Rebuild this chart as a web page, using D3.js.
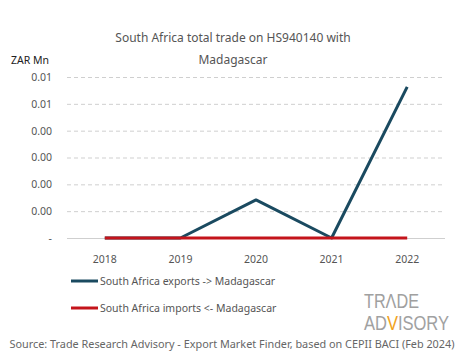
<!DOCTYPE html>
<html><head><meta charset="utf-8">
<script src="https://cdn.jsdelivr.net/npm/d3@7"></script>
<style>body{margin:0;background:#fff}svg{display:block;font-family:"Noto Sans",sans-serif}</style>
</head><body><svg id="c" width="465" height="359"></svg>
<script>
const years = ["2018","2019","2020","2021","2022"];
const exportsZAR = [0, 0, 0.00142, 0, 0.00563];
const importsZAR = [0, 0, 0, 0, 0];
const yTicks = [0, 0.001, 0.002, 0.003, 0.004, 0.005, 0.006];
const tickLabels = ["-", "0.00", "0.00", "0.00", "0.00", "0.01", "0.01"];
const seriesNames = ["South Africa exports -> Madagascar", "South Africa imports <- Madagascar"];
const colors = ["#1a4a60", "#c4141b"];

const svg = d3.select("#c");
const x = d3.scaleBand().domain(years).range([67, 445]);
const y = d3.scaleLinear().domain([0, 0.006]).range([238, 77]);

svg.append("text").attr("x", 233).attr("y", 42).attr("text-anchor", "middle")
  .attr("font-size", 12).attr("fill", "#555").text("South Africa total trade on HS940140 with");
svg.append("text").attr("x", 233).attr("y", 64).attr("text-anchor", "middle")
  .attr("font-size", 12).attr("fill", "#555").text("Madagascar");
svg.append("text").attr("x", 11).attr("y", 64).attr("font-size", 10.5).attr("fill", "#222").text("ZAR Mn");

const yAxis = d3.axisLeft(y).tickValues(yTicks).tickSize(-(445 - 67)).tickFormat((d, i) => tickLabels[i]);
const gy = svg.append("g").attr("transform", "translate(67,0)").call(yAxis);
gy.select(".domain").remove();
gy.selectAll(".tick line").attr("stroke", "#cfcfcf")
  .attr("stroke-dasharray", (d) => d === 0 ? null : "4,3");
gy.selectAll(".tick text").attr("x", -15).attr("font-size", 10.5).attr("fill", "#555")
  .attr("font-family", '"Noto Sans",sans-serif');

const xAxis = d3.axisBottom(x).tickSize(0).tickPadding(12);
const gx = svg.append("g").attr("transform", "translate(0,244)").call(xAxis);
gx.select(".domain").remove();
gx.selectAll(".tick text").attr("font-size", 10.5).attr("fill", "#555")
  .attr("font-family", '"Noto Sans",sans-serif');

const line = d3.line().x((d, i) => x(years[i]) + x.bandwidth() / 2).y(d => y(d));
svg.append("path").datum(exportsZAR).attr("d", line).attr("fill", "none")
  .attr("stroke", colors[0]).attr("stroke-width", 3).attr("stroke-linejoin", "round");
svg.append("path").datum(importsZAR).attr("d", line).attr("fill", "none")
  .attr("stroke", colors[1]).attr("stroke-width", 3);

seriesNames.forEach((n, i) => {
  const ly = 281 + i * 27;
  svg.append("line").attr("x1", 71).attr("x2", 98).attr("y1", ly).attr("y2", ly)
    .attr("stroke", colors[i]).attr("stroke-width", 3);
  svg.append("text").attr("x", 100).attr("y", ly + 4).attr("font-size", 10.5).attr("fill", "#555").text(n);
});

const logoFont = '"Liberation Sans","DejaVu Sans",sans-serif';
svg.append("text").attr("x", 364).attr("y", 308).attr("font-size", 21).attr("fill", "#a0a0a0")
  .attr("font-family", logoFont).attr("textLength", 55).attr("lengthAdjust", "spacingAndGlyphs")
  .text("TRΛDE");
const adv = svg.append("text").attr("x", 364).attr("y", 330).attr("font-size", 21)
  .attr("font-family", logoFont).attr("textLength", 85).attr("lengthAdjust", "spacingAndGlyphs")
  .text("ADVISORY");
const n = adv.node();
let v0 = 387, v1 = 399;
try { const s = n.getStartPositionOfChar(2).x, e = n.getEndPositionOfChar(2).x; if (e > s) { v0 = s; v1 = e; } } catch (err) {}
const grad = svg.append("defs").append("linearGradient").attr("id", "advg")
  .attr("gradientUnits", "userSpaceOnUse").attr("x1", 364).attr("x2", 449).attr("y1", 0).attr("y2", 0);
const f0 = (v0 - 364) / 85, f1 = (v1 - 364) / 85;
[[0, "#a0a0a0"], [f0, "#a0a0a0"], [f0, "#f0a020"], [f1, "#f0a020"], [f1, "#a0a0a0"], [1, "#a0a0a0"]]
  .forEach(([o, c]) => grad.append("stop").attr("offset", o).attr("stop-color", c));
adv.attr("fill", "url(#advg)");

svg.append("text").attr("x", 232).attr("y", 348).attr("text-anchor", "middle").attr("font-size", 10.5)
  .attr("fill", "#666").attr("textLength", 445).attr("lengthAdjust", "spacingAndGlyphs")
  .text("Source: Trade Research Advisory - Export Market Finder, based on CEPII BACI (Feb 2024)");
</script></body></html>
